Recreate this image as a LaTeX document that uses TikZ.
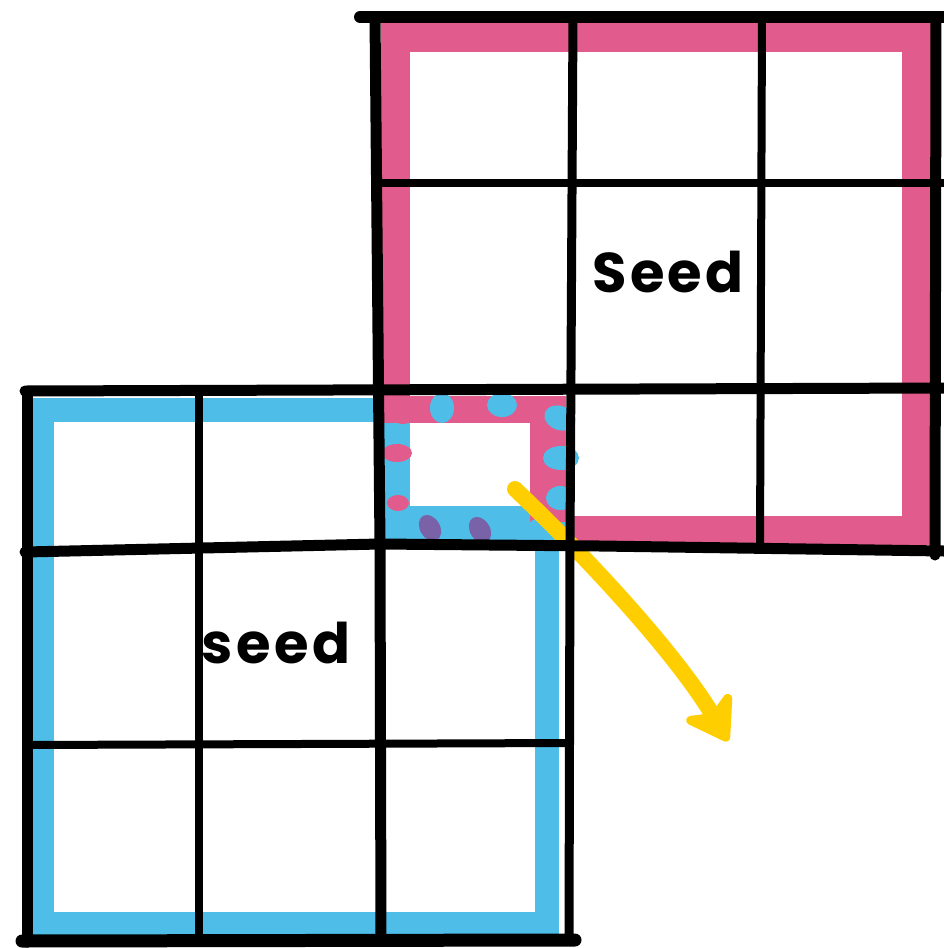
\documentclass[tikz,border=0pt]{standalone}
\usepackage{fontspec}
\setmainfont{Poppins}
\usetikzlibrary{arrows.meta}
\definecolor{mpink}{RGB}{225,92,140}
\definecolor{mblue}{RGB}{78,190,233}
\definecolor{mpurple}{RGB}{122,98,168}
\definecolor{myellow}{RGB}{255,206,0}
\begin{document}
\begin{tikzpicture}[x=1pt,y=-1pt,
  outerline/.style={line width=11pt,line cap=round},
  innerline/.style={line width=8pt,line cap=round},
  pinkdot/.style={fill=mpink},
  bluedot/.style={fill=mblue},
  purpledot/.style={fill=mpurple},
  label/.style={font=\fontsize{56}{60}\selectfont\bfseries\addfontfeature{LetterSpace=6}, inner sep=0pt, anchor=base}]
\useasboundingbox (0,0) rectangle (944,948);
\fill[white] (0,0) rectangle (944,948);
% marker bands
\draw[mpink, line width=29pt] (395,37) rectangle (916,530);
\draw[mblue, line width=24pt] (42,410) rectangle (547,924);
% overlap cell
\fill[mblue] (384,396) rectangle (410,542);
\fill[mblue] (384,506) rectangle (566,542);
\fill[mpink] (384,396) rectangle (566,423);
\fill[mpink] (530,396) rectangle (566,522);
% dots
\fill[pinkdot] (403,410) ellipse [x radius=14pt, y radius=14pt];
\fill[pinkdot] (397,453) ellipse [x radius=15pt, y radius=9pt];
\fill[pinkdot] (398,503) ellipse [x radius=11pt, y radius=8pt];
\fill[bluedot] (442,408) ellipse [x radius=12pt, y radius=15pt];
\fill[bluedot] (502,405) ellipse [x radius=15pt, y radius=12pt];
\fill[bluedot, rotate around={-20:(560,418)}] (560,418) ellipse [x radius=16pt, y radius=12pt];
\fill[bluedot] (561,458) ellipse [x radius=18pt, y radius=12pt];
\fill[bluedot] (560,498) ellipse [x radius=14pt, y radius=12pt];
\fill[bluedot] (537,532) ellipse [x radius=11pt, y radius=13pt];
\fill[purpledot, rotate around={-60:(430,528)}] (430,528) ellipse [x radius=14pt, y radius=10pt];
\fill[purpledot, rotate around={-60:(480,530)}] (480,530) ellipse [x radius=14pt, y radius=10pt];
% yellow arrow
\coordinate (ya) at (515,489);
\coordinate (yb) at (728,741);
\draw[myellow, line width=16pt, line cap=round,
  -{Stealth[length=50pt,width=66pt,inset=14pt,round]}]
  (ya) .. controls (600,570) and (680,660) .. (yb);
% black grid lines
\draw[outerline, line width=12pt] (360,17) -- (944,17);
\draw[innerline] (378,183) -- (944,183);
\draw[outerline] (25,391) -- (944,388);
\draw[outerline] (25,552) -- (380,544) -- (600,546) -- (944,551);
\draw[innerline] (27,745) -- (570,743);
\draw[outerline, line width=13pt] (22,941) -- (575,940);
\draw[outerline] (27,392) -- (27,942);
\draw[innerline] (199,390) -- (199,940);
\draw[outerline] (375,17) -- (380,545) -- (381,940);
\draw[outerline, line width=9pt] (573,17) -- (570,545) -- (569,940);
\draw[innerline] (762,17) -- (760,550);
\draw[outerline] (936,17) -- (935,555);
% labels
\node[label] (seedA) at (668,292) {Seed};
\node[label] (seedB) at (276,663) {seed};
\end{tikzpicture}
\end{document}
